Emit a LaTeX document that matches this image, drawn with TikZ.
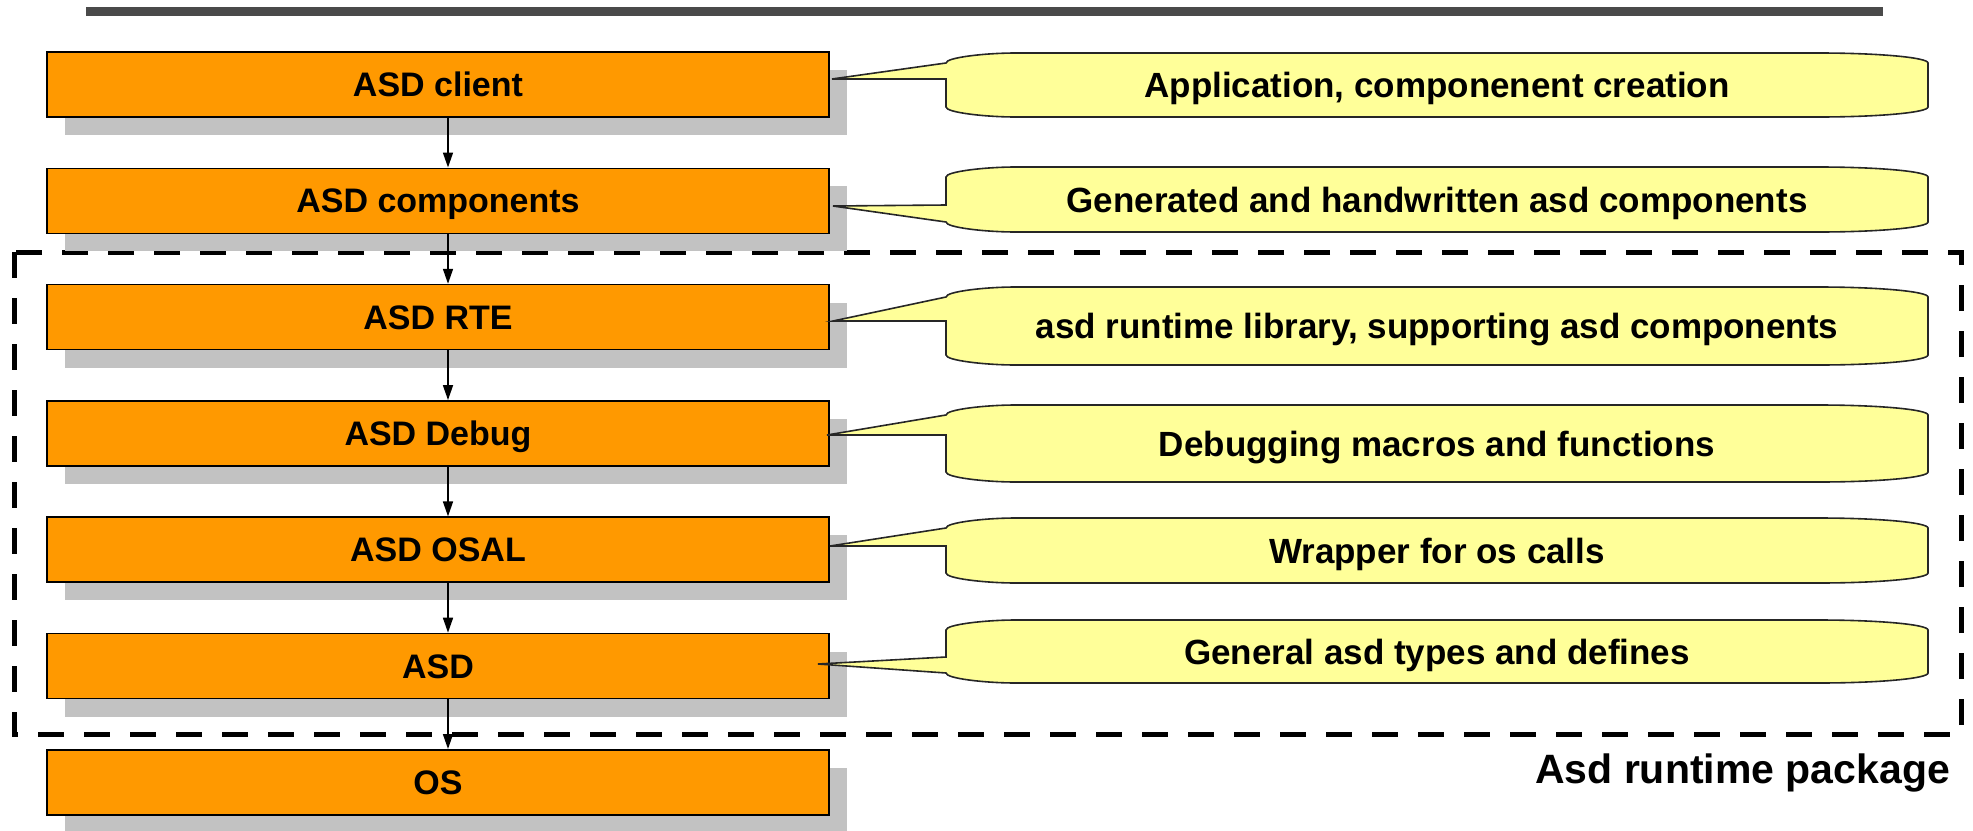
\documentclass[tikz,border=0pt]{standalone}
\usepackage{fontspec}
\setmainfont{Liberation Sans}
\usetikzlibrary{arrows.meta,shadows}
\definecolor{boxorange}{HTML}{FF9900}
\definecolor{noteyellow}{HTML}{FFFF99}
\definecolor{shadowgray}{HTML}{C2C2C2}
\definecolor{bargray}{HTML}{4A4A4A}

% callout whose pointer leaves from the upper left corner
% #1 top, #2 bottom, #3 tip x, #4 tip y
\newcommand\calloutup[4]{%
  \filldraw[notebody] (946,#1+10) .. controls (946,#1+4.5) and (985,#1) .. (1016,#1)
    -- (1818,#1) .. controls (1879,#1) and (1928,#1+4.5) .. (1928,#1+10)
    -- (1928,#2-10) .. controls (1928,#2-4.5) and (1879,#2) .. (1818,#2)
    -- (1016,#2) .. controls (985,#2) and (946,#2-4.5) .. (946,#2-10)
    -- (946,#4) -- (#3,#4) -- cycle;}
% callout whose pointer leaves from the lower left corner
% #1 top, #2 bottom, #3 upper pointer edge y, #4 tip x, #5 tip y
\newcommand\calloutdown[5]{%
  \filldraw[notebody] (946,#1+10) .. controls (946,#1+4.5) and (985,#1) .. (1016,#1)
    -- (1818,#1) .. controls (1879,#1) and (1928,#1+4.5) .. (1928,#1+10)
    -- (1928,#2-10) .. controls (1928,#2-4.5) and (1879,#2) .. (1818,#2)
    -- (1016,#2) .. controls (985,#2) and (946,#2-4.5) .. (946,#2-10)
    -- (#4,#5) -- (946,#3) -- cycle;}

\begin{document}
\begin{tikzpicture}[x=1pt,y=-1pt,
  layerbox/.style={draw=black, line width=1.6pt, fill=boxorange,
    minimum width=782pt, minimum height=65pt, inner sep=0pt,
    font=\fontsize{34}{40}\selectfont\bfseries, text height=24pt, text depth=0pt,
    drop shadow={shadow xshift=18pt, shadow yshift=-18pt, opacity=1, fill=shadowgray}},
  notebody/.style={draw=black!85, line width=1.6pt, fill=noteyellow, line join=miter},
  notetext/.style={inner sep=0pt, font=\fontsize{35}{42}\selectfont\bfseries,
    text height=25pt, text depth=0pt},
  flow/.style={draw=black, line width=1.6pt, -{Triangle[width=10pt,length=15pt]}},
  frame/.style={draw=black, line width=5pt, dash pattern=on 26pt off 20pt},
]
\useasboundingbox (0,0) rectangle (1973,830);

% heading rule
\fill[bargray] (86,7) rectangle (1883,16);

% runtime package boundary
\draw[frame] (14,252) rectangle (1961,734);

% layer stack
\node[layerbox] (b1) at (438,84.5)  {ASD client};
\node[layerbox] (b2) at (438,200.8) {ASD components};
\node[layerbox] (b3) at (438,317.1) {ASD RTE};
\node[layerbox] (b4) at (438,433.4) {ASD Debug};
\node[layerbox] (b5) at (438,549.7) {ASD OSAL};
\node[layerbox] (b6) at (438,666.0) {ASD};
\node[layerbox] (b7) at (438,782.3) {OS};

\foreach \a/\b in {b1/b2,b2/b3,b3/b4,b4/b5,b5/b6,b6/b7}
  \draw[flow] ([xshift=10pt]\a.south) -- ([xshift=10pt]\b.north);

% descriptions
\calloutup{53}{117}{832}{79}
\calloutdown{167}{232}{205}{833}{206}
\calloutup{287}{365}{833}{321}
\calloutup{405}{482}{827}{435}
\calloutup{518}{583}{830}{546}
\calloutdown{620}{683}{657}{818}{664}

\node[notetext] (c1) at (1437,85)  {Application, componenent creation};
\node[notetext] (c2) at (1437,199.5) {Generated and handwritten asd components};
\node[notetext] (c3) at (1437,326) {asd runtime library, supporting asd components};
\node[notetext] (c4) at (1437,443.5) {Debugging macros and functions};
\node[notetext] (c5) at (1437,550.5) {Wrapper for os calls};
\node[notetext] (c6) at (1437,651.5) {General asd types and defines};

\node[anchor=base west, inner sep=0pt, font=\fontsize{41}{48}\selectfont\bfseries]
  (pkg) at (1535,783) {Asd runtime package};
\end{tikzpicture}
\end{document}
